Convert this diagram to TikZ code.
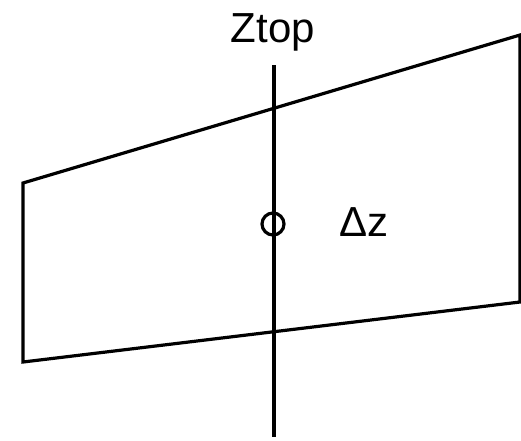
\documentclass[tikz,border=0pt]{standalone}
\usepackage{fontspec}
\setmainfont{Liberation Sans}
\usetikzlibrary{positioning}
\tikzset{
  edge/.style={line width=3.2pt,draw=black,line join=miter},
  lbl/.style={font=\fontsize{42}{45}\selectfont,inner sep=0pt},
  pivot/.style={circle,draw=black,line width=3.2pt,minimum size=22pt,inner sep=0pt},
}
\begin{document}
\begin{tikzpicture}[x=1pt,y=-1pt]
    \useasboundingbox (0,0) rectangle (521,440);
    \coordinate (tl) at (23,183);
    \coordinate (tr) at (520,35);
    \coordinate (br) at (520,302);
    \coordinate (bl) at (23,362);
    \coordinate (top) at (274,65);
    \coordinate (bot) at (274,437);
    \node[lbl,anchor=base] (ztop) at (273,42) {Ztop};
    \node[pivot] (hinge) at (273,224) {};
    \node[lbl,anchor=base west] (dz) at (339,236) {Δz};
    \draw[edge] (tl) -- (tr) -- (br) -- (bl) -- cycle;
    \draw[edge] (top) -- (bot);
  \end{tikzpicture}
\end{document}
